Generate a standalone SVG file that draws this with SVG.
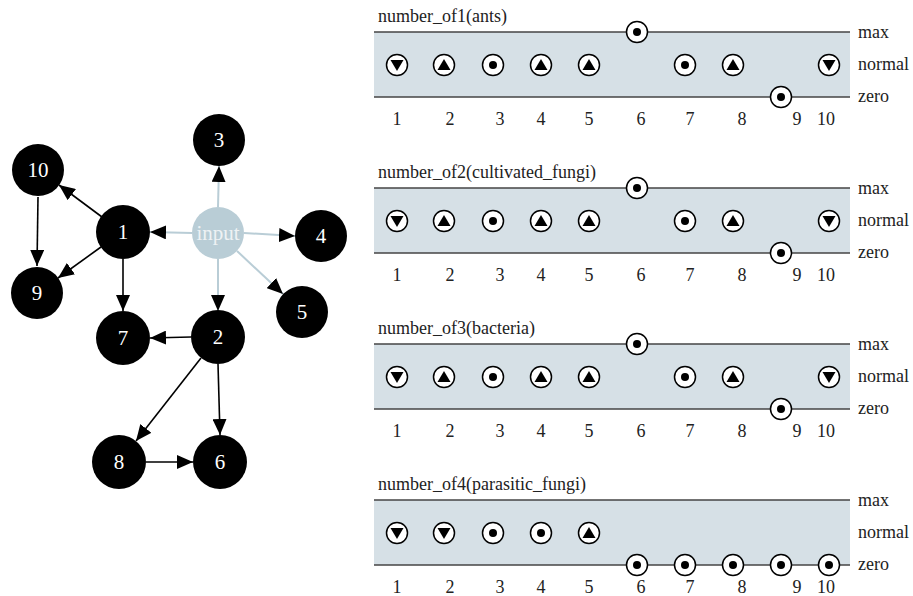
<svg xmlns="http://www.w3.org/2000/svg" xmlns:xlink="http://www.w3.org/1999/xlink" width="913" height="596" viewBox="0 0 913 596">
  <style>
    .node { fill: #000; }
    .nlabel { font-family: "Liberation Serif", serif; font-size: 21px; fill: #fff; text-anchor: middle; }
    .edge { stroke: #000; stroke-width: 1.6; fill: none; marker-end: url(#arrow); }
    .iedge { stroke: #b9cdd6; stroke-width: 2; fill: none; marker-end: url(#arrow); }
    .band { fill: #d6e0e6; }
    .rule { stroke: #444; stroke-width: 1.4; }
    .txt { font-family: "Liberation Serif", serif; font-size: 18px; fill: #222; }
    .num { font-family: "Liberation Serif", serif; font-size: 18px; fill: #222; text-anchor: middle; }
  </style>
  <defs>
    <marker id="arrow" markerUnits="userSpaceOnUse" markerWidth="16" markerHeight="14" refX="16" refY="7" orient="auto">
      <path d="M0,0 L16,7 L0,14 z" fill="#000"/>
    </marker>
    <g id="dot">
      <circle r="10.5" fill="#fff" stroke="#000" stroke-width="1.5"/>
      <circle r="4" fill="#000"/>
    </g>
    <g id="up">
      <circle r="10.5" fill="#fff" stroke="#000" stroke-width="1.5"/>
      <path d="M0,-6 L6.5,5 L-6.5,5 z" fill="#000"/>
    </g>
    <g id="down">
      <circle r="10.5" fill="#fff" stroke="#000" stroke-width="1.5"/>
      <path d="M0,6 L6.5,-5 L-6.5,-5 z" fill="#000"/>
    </g>
    <!-- shared band: level lines, level names and step numbers -->
    <g id="frame">
      <rect class="band" x="374" y="0" width="476" height="65"/>
      <line class="rule" x1="374" y1="0" x2="850" y2="0"/>
      <line class="rule" x1="374" y1="65" x2="850" y2="65"/>
      <text class="txt" x="858" y="6">max</text>
      <text class="txt" x="858" y="38">normal</text>
      <text class="txt" x="858" y="70">zero</text>
      <text class="num" x="397" y="93">1</text>
      <text class="num" x="450" y="93">2</text>
      <text class="num" x="500" y="93">3</text>
      <text class="num" x="541" y="93">4</text>
      <text class="num" x="589" y="93">5</text>
      <text class="num" x="641" y="93">6</text>
      <text class="num" x="690" y="93">7</text>
      <text class="num" x="742" y="93">8</text>
      <text class="num" x="797" y="93">9</text>
      <text class="num" x="826" y="93">10</text>
    </g>
  </defs>

  <!-- connectors -->
  <g id="connectors">
    <line class="iedge" x1="218" y1="207" x2="219" y2="166"/>
    <line class="iedge" x1="192" y1="233" x2="150" y2="232"/>
    <line class="iedge" x1="244" y1="233" x2="295" y2="236"/>
    <line class="iedge" x1="237" y1="251" x2="283" y2="294"/>
    <line class="iedge" x1="218" y1="259" x2="218" y2="311"/>
    <line class="edge" x1="102" y1="217" x2="59" y2="185"/>
    <line class="edge" x1="101" y1="247" x2="58" y2="278"/>
    <line class="edge" x1="123" y1="259" x2="123" y2="311"/>
    <line class="edge" x1="38" y1="197" x2="37" y2="266"/>
    <line class="edge" x1="191" y1="337" x2="150" y2="338"/>
    <line class="edge" x1="201" y1="358" x2="136" y2="441"/>
    <line class="edge" x1="218" y1="364" x2="220" y2="435"/>
    <line class="edge" x1="146" y1="462" x2="193" y2="462"/>
  </g>

  <!-- nodes -->
  <g id="node-input"><circle cx="218" cy="233" r="26" fill="#b9cdd6"/><text class="nlabel" x="218" y="240" style="fill:#eef2f4">input</text></g>
  <g id="node-3"><circle class="node" cx="219" cy="140" r="26"/><text class="nlabel" x="219" y="147">3</text></g>
  <g id="node-10"><circle class="node" cx="38" cy="170" r="26"/><text class="nlabel" x="38" y="177">10</text></g>
  <g id="node-1"><circle class="node" cx="123" cy="232" r="27"/><text class="nlabel" x="123" y="239">1</text></g>
  <g id="node-4"><circle class="node" cx="321" cy="236" r="26"/><text class="nlabel" x="321" y="243">4</text></g>
  <g id="node-9"><circle class="node" cx="37" cy="293" r="26"/><text class="nlabel" x="37" y="300">9</text></g>
  <g id="node-5"><circle class="node" cx="302" cy="312" r="26"/><text class="nlabel" x="302" y="319">5</text></g>
  <g id="node-7"><circle class="node" cx="123" cy="338" r="27"/><text class="nlabel" x="123" y="345">7</text></g>
  <g id="node-2"><circle class="node" cx="218" cy="337" r="27"/><text class="nlabel" x="218" y="344">2</text></g>
  <g id="node-8"><circle class="node" cx="119" cy="462" r="27"/><text class="nlabel" x="119" y="469">8</text></g>
  <g id="node-6"><circle class="node" cx="220" cy="462" r="27"/><text class="nlabel" x="220" y="469">6</text></g>

  <!-- panel 1 -->
  <g id="panel-ants">
    <text class="txt" x="378" y="22">number_of1(ants)</text>
    <use xlink:href="#frame" y="32"/>
    <use xlink:href="#down" x="397" y="65"/>
    <use xlink:href="#up" x="444" y="65"/>
    <use xlink:href="#dot" x="493" y="65"/>
    <use xlink:href="#up" x="541" y="65"/>
    <use xlink:href="#up" x="589" y="65"/>
    <use xlink:href="#dot" x="637" y="32"/>
    <use xlink:href="#dot" x="685" y="65"/>
    <use xlink:href="#up" x="733" y="65"/>
    <use xlink:href="#dot" x="781" y="97"/>
    <use xlink:href="#down" x="829" y="65"/>
  </g>

  <!-- panel 2 -->
  <g id="panel-cultivated">
    <text class="txt" x="378" y="178">number_of2(cultivated_fungi)</text>
    <use xlink:href="#frame" y="188"/>
    <use xlink:href="#down" x="397" y="221"/>
    <use xlink:href="#up" x="444" y="221"/>
    <use xlink:href="#dot" x="493" y="221"/>
    <use xlink:href="#up" x="541" y="221"/>
    <use xlink:href="#up" x="589" y="221"/>
    <use xlink:href="#dot" x="637" y="188"/>
    <use xlink:href="#dot" x="685" y="221"/>
    <use xlink:href="#up" x="733" y="221"/>
    <use xlink:href="#dot" x="781" y="253"/>
    <use xlink:href="#down" x="829" y="221"/>
  </g>

  <!-- panel 3 -->
  <g id="panel-bacteria">
    <text class="txt" x="378" y="334">number_of3(bacteria)</text>
    <use xlink:href="#frame" y="344"/>
    <use xlink:href="#down" x="397" y="377"/>
    <use xlink:href="#up" x="444" y="377"/>
    <use xlink:href="#dot" x="493" y="377"/>
    <use xlink:href="#up" x="541" y="377"/>
    <use xlink:href="#up" x="589" y="377"/>
    <use xlink:href="#dot" x="637" y="344"/>
    <use xlink:href="#dot" x="685" y="377"/>
    <use xlink:href="#up" x="733" y="377"/>
    <use xlink:href="#dot" x="781" y="409"/>
    <use xlink:href="#down" x="829" y="377"/>
  </g>

  <!-- panel 4 -->
  <g id="panel-parasitic">
    <text class="txt" x="378" y="490">number_of4(parasitic_fungi)</text>
    <use xlink:href="#frame" y="500"/>
    <use xlink:href="#down" x="397" y="533"/>
    <use xlink:href="#down" x="444" y="533"/>
    <use xlink:href="#dot" x="493" y="533"/>
    <use xlink:href="#dot" x="541" y="533"/>
    <use xlink:href="#up" x="589" y="533"/>
    <use xlink:href="#dot" x="637" y="565"/>
    <use xlink:href="#dot" x="685" y="565"/>
    <use xlink:href="#dot" x="733" y="565"/>
    <use xlink:href="#dot" x="781" y="565"/>
    <use xlink:href="#dot" x="829" y="565"/>
  </g>
</svg>
